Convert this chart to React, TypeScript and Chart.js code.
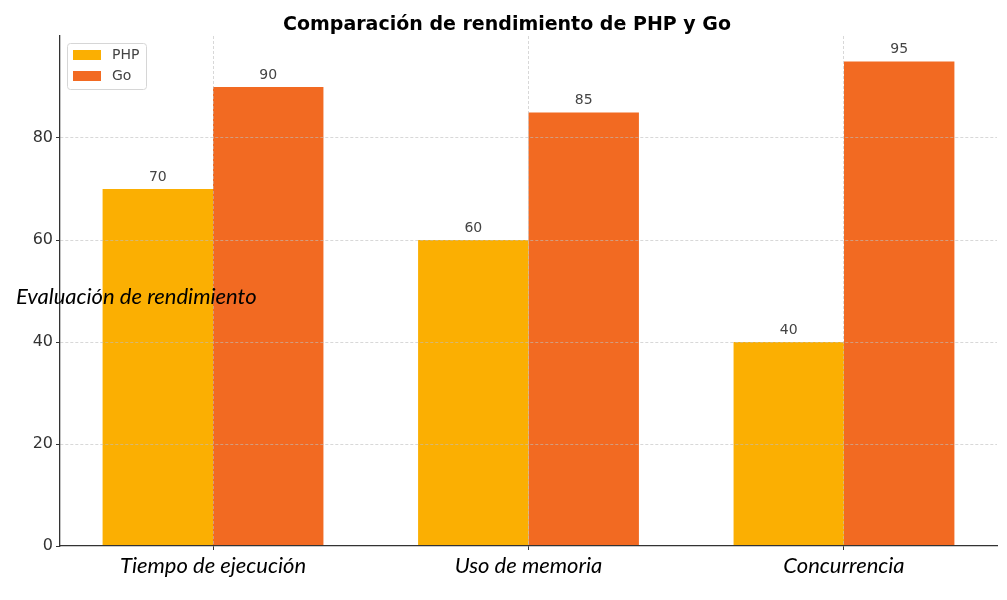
import React, { useEffect, useRef } from "react";
import { Chart, registerables } from "chart.js";

Chart.register(...registerables);

const categories = ["Tiempo de ejecución", "Uso de memoria", "Concurrencia"];
const seriesNames = ["PHP", "Go"];
const phpValues = [70, 60, 40];
const goValues = [90, 85, 95];
const yTickValues = [0, 20, 40, 60, 80];

const titleText = "Comparación de rendimiento de PHP y Go";
const yAxisTitle = "Evaluación de rendimiento";

const PHP_COLOR = "#FBAF02";
const GO_COLOR = "#F26A22";
const GRID_COLOR = "rgba(190,190,190,0.6)";
const AXIS_COLOR = "#333333";
const LABEL_FONT = "Lato, 'DejaVu Sans', sans-serif";

const overlayPlugin = {
  id: "overlay",
  afterDatasetsDraw(chart: any) {
    const ctx = chart.ctx;
    ctx.save();
    ctx.font = "14px 'DejaVu Sans', sans-serif";
    ctx.fillStyle = "#444444";
    ctx.textAlign = "center";
    ctx.textBaseline = "bottom";
    chart.data.datasets.forEach((ds: any, di: number) => {
      const meta = chart.getDatasetMeta(di);
      meta.data.forEach((bar: any, i: number) => {
        const v = ds.data[i].y;
        ctx.fillText(String(v), bar.x, bar.y - 5);
      });
    });
    ctx.restore();
  },
  afterDraw(chart: any) {
    const ctx = chart.ctx;
    const area = chart.chartArea;
    ctx.save();
    // title
    ctx.font = "bold 19px 'DejaVu Sans', sans-serif";
    ctx.fillStyle = "#000";
    ctx.textAlign = "center";
    ctx.textBaseline = "middle";
    ctx.fillText(titleText, 507, 25);

    // y axis title (horizontal, overlapping plot)
    ctx.font = `italic 22px ${LABEL_FONT}`;
    ctx.textAlign = "left";
    ctx.fillText(yAxisTitle, 16, 297);

    // legend
    const lx = area.left + 7;
    const ly = area.top + 7;
    const lw = 79;
    const lh = 46;
    ctx.fillStyle = "rgba(255,255,255,0.85)";
    ctx.strokeStyle = "#d6d6d6";
    ctx.lineWidth = 1;
    ctx.beginPath();
    (ctx as any).roundRect(lx + 0.5, ly + 0.5, lw, lh, 3);
    ctx.fill();
    ctx.stroke();
    const colors = chart.data.datasets.map((d: any) => d.backgroundColor);
    ctx.font = "14px 'DejaVu Sans', sans-serif";
    ctx.textBaseline = "middle";
    seriesNames.forEach((name, i) => {
      const cy = ly + 12 + i * 21;
      ctx.fillStyle = colors[i];
      ctx.fillRect(lx + 6, cy - 5, 28, 10);
      ctx.fillStyle = "#444";
      ctx.fillText(name, lx + 45, cy);
    });
    ctx.restore();
  },
};

export default function App() {
  const canvasRef = useRef<HTMLCanvasElement | null>(null);

  useEffect(() => {
    if (!canvasRef.current) return;
    const chart = new Chart(canvasRef.current, {
      type: "bar",
      data: {
        datasets: [
          {
            label: seriesNames[0],
            data: phpValues.map((v, i) => ({ x: i, y: v })),
            backgroundColor: PHP_COLOR,
            borderWidth: 0,
          },
          {
            label: seriesNames[1],
            data: goValues.map((v, i) => ({ x: i, y: v })),
            backgroundColor: GO_COLOR,
            borderWidth: 0,
          },
        ],
      },
      options: {
        animation: false,
        responsive: false,
        devicePixelRatio: 1,
        layout: { padding: { top: 36, right: 10, left: 0, bottom: 0 } },
        datasets: {
          bar: { categoryPercentage: 0.7, barPercentage: 1.0 },
        },
        plugins: {
          legend: { display: false },
          title: { display: false },
          tooltip: { enabled: false },
        },
        scales: {
          x: {
            type: "linear",
            position: "bottom",
            min: -0.485,
            max: 2.485,
            offset: false,
            afterBuildTicks: (s: any) => {
              s.ticks = categories.map((_, i) => ({ value: i }));
            },
            afterFit: (s: any) => {
              s.height = 54;
            },
            grid: {
              offset: false,
              color: GRID_COLOR,
              lineWidth: 1,
              tickColor: AXIS_COLOR,
              tickLength: 4,
              z: 1,
            },
            border: { color: AXIS_COLOR, width: 1.3, dash: [3, 2], z: 2 },
            ticks: {
              autoSkip: false,
              maxRotation: 0,
              padding: 3,
              color: "#000",
              font: { family: LABEL_FONT, size: 22, style: "italic" },
              callback: (v: any) => categories[v as number] ?? "",
            },
          },
          y: {
            position: "left",
            min: 0,
            max: 100,
            afterBuildTicks: (s: any) => {
              s.ticks = yTickValues.map((v) => ({ value: v }));
            },
            afterFit: (s: any) => {
              s.width = 60;
            },
            grid: {
              color: (c: any) => (c.tick && c.tick.value === 0 ? "rgba(0,0,0,0)" : GRID_COLOR),
              lineWidth: 1,
              tickColor: AXIS_COLOR,
              tickLength: 4,
              z: 1,
            },
            border: { color: AXIS_COLOR, width: 1.3, dash: [3, 2], z: 2 },
            ticks: {
              padding: 3,
              color: "#333",
              font: { family: "'DejaVu Sans', sans-serif", size: 16 },
            },
          },
        },
      },
      plugins: [overlayPlugin],
    } as any);
    return () => chart.destroy();
  }, []);

  return (
    <div style={{ position: "fixed", left: 0, top: 0, width: 1007, height: 600, background: "#fff" }}>
      <canvas ref={canvasRef} width={1007} height={600} style={{ width: 1007, height: 600 }} />
    </div>
  );
}
